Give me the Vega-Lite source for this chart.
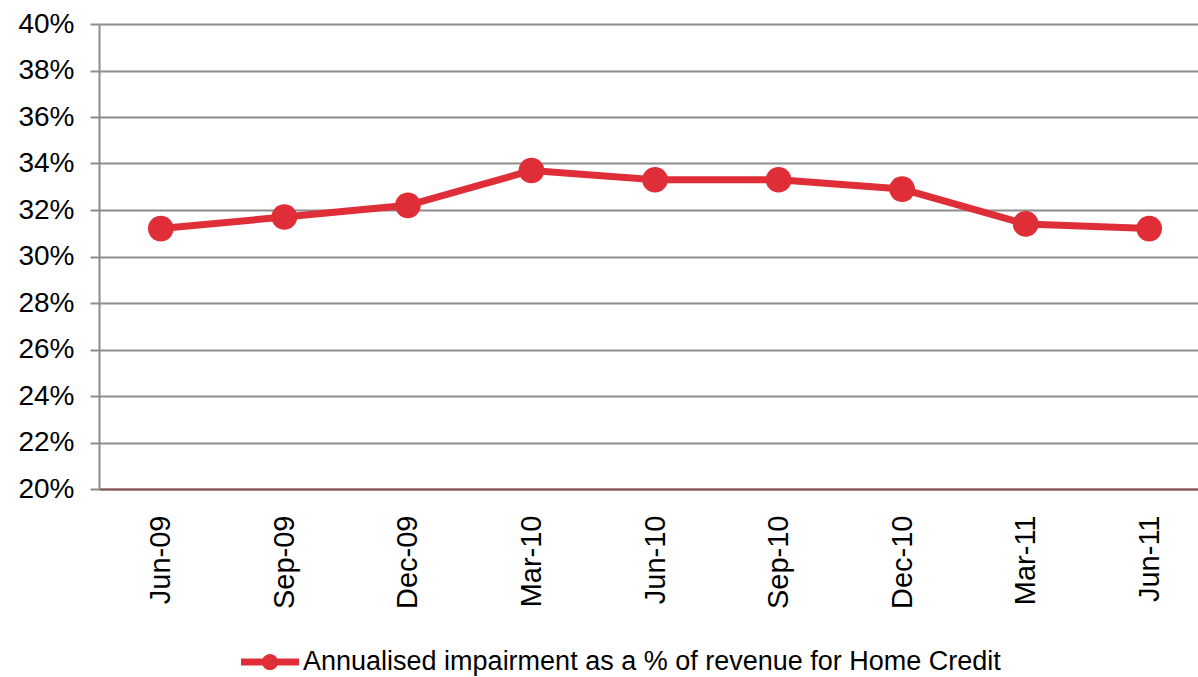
{
  "$schema": "https://vega.github.io/schema/vega-lite/v6.json",
  "autosize": "none",
  "width": 1112,
  "height": 465,
  "padding": {"left": 99, "top": 24, "right": 0, "bottom": 188},
  "background": "white",
  "config": {
    "view": {"stroke": null},
    "font": "Liberation Sans",
    "axis": {"labelFont": "Liberation Sans", "labelColor": "#000000"}
  },
  "data": {
    "values": [
      {"quarter": "Jun-09", "value": 0.312, "series": "Annualised impairment as a % of revenue for Home Credit"},
      {"quarter": "Sep-09", "value": 0.317, "series": "Annualised impairment as a % of revenue for Home Credit"},
      {"quarter": "Dec-09", "value": 0.322, "series": "Annualised impairment as a % of revenue for Home Credit"},
      {"quarter": "Mar-10", "value": 0.337, "series": "Annualised impairment as a % of revenue for Home Credit"},
      {"quarter": "Jun-10", "value": 0.333, "series": "Annualised impairment as a % of revenue for Home Credit"},
      {"quarter": "Sep-10", "value": 0.333, "series": "Annualised impairment as a % of revenue for Home Credit"},
      {"quarter": "Dec-10", "value": 0.329, "series": "Annualised impairment as a % of revenue for Home Credit"},
      {"quarter": "Mar-11", "value": 0.314, "series": "Annualised impairment as a % of revenue for Home Credit"},
      {"quarter": "Jun-11", "value": 0.312, "series": "Annualised impairment as a % of revenue for Home Credit"}
    ]
  },
  "encoding": {
    "x": {
      "field": "quarter", "type": "ordinal", "sort": null,
      "scale": {"paddingInner": 0, "paddingOuter": 0.5},
      "axis": {
        "title": null, "labelAngle": 270, "ticks": false, "labelPadding": 26,
        "labelFontSize": 29,
        "domainColor": "#8a5252", "domainWidth": 2, "grid": false
      }
    },
    "y": {
      "field": "value", "type": "quantitative",
      "scale": {"domain": [0.2, 0.4], "nice": false, "zero": false},
      "axis": {
        "title": null, "format": ".0%",
        "values": [0.2, 0.22, 0.24, 0.26, 0.28, 0.3, 0.32, 0.34, 0.36, 0.38, 0.4],
        "labelFontSize": 28,
        "grid": true, "gridColor": "#8c8c8c", "gridWidth": 2, "gridOpacity": 1,
        "domainColor": "#8c8c8c", "domainWidth": 2,
        "tickColor": "#8c8c8c", "tickWidth": 2, "tickSize": 9,
        "labelPadding": 16
      }
    }
  },
  "layer": [
    {
      "mark": {"type": "line", "color": "#df2e38", "strokeWidth": 7},
      "encoding": {}
    },
    {
      "mark": {"type": "point", "filled": true, "size": 660, "opacity": 1},
      "encoding": {
        "color": {
          "field": "series", "type": "nominal",
          "scale": {"range": ["#df2e38"]},
          "legend": {
            "title": null, "orient": "none", "legendX": 142, "legendY": 609,
            "padding": 0,
            "symbolType": "M-1,-0.12 H1 V0.12 H-1 Z M-0.28,0 A0.28,0.28 0 1,1 0.28,0 A0.28,0.28 0 1,1 -0.28,0 Z",
            "symbolSize": 3364, "symbolStrokeWidth": 0,
            "labelFont": "Liberation Sans", "labelFontSize": 27, "labelColor": "#000000",
            "labelOffset": 4, "labelLimit": 0
          }
        }
      }
    }
  ]
}
